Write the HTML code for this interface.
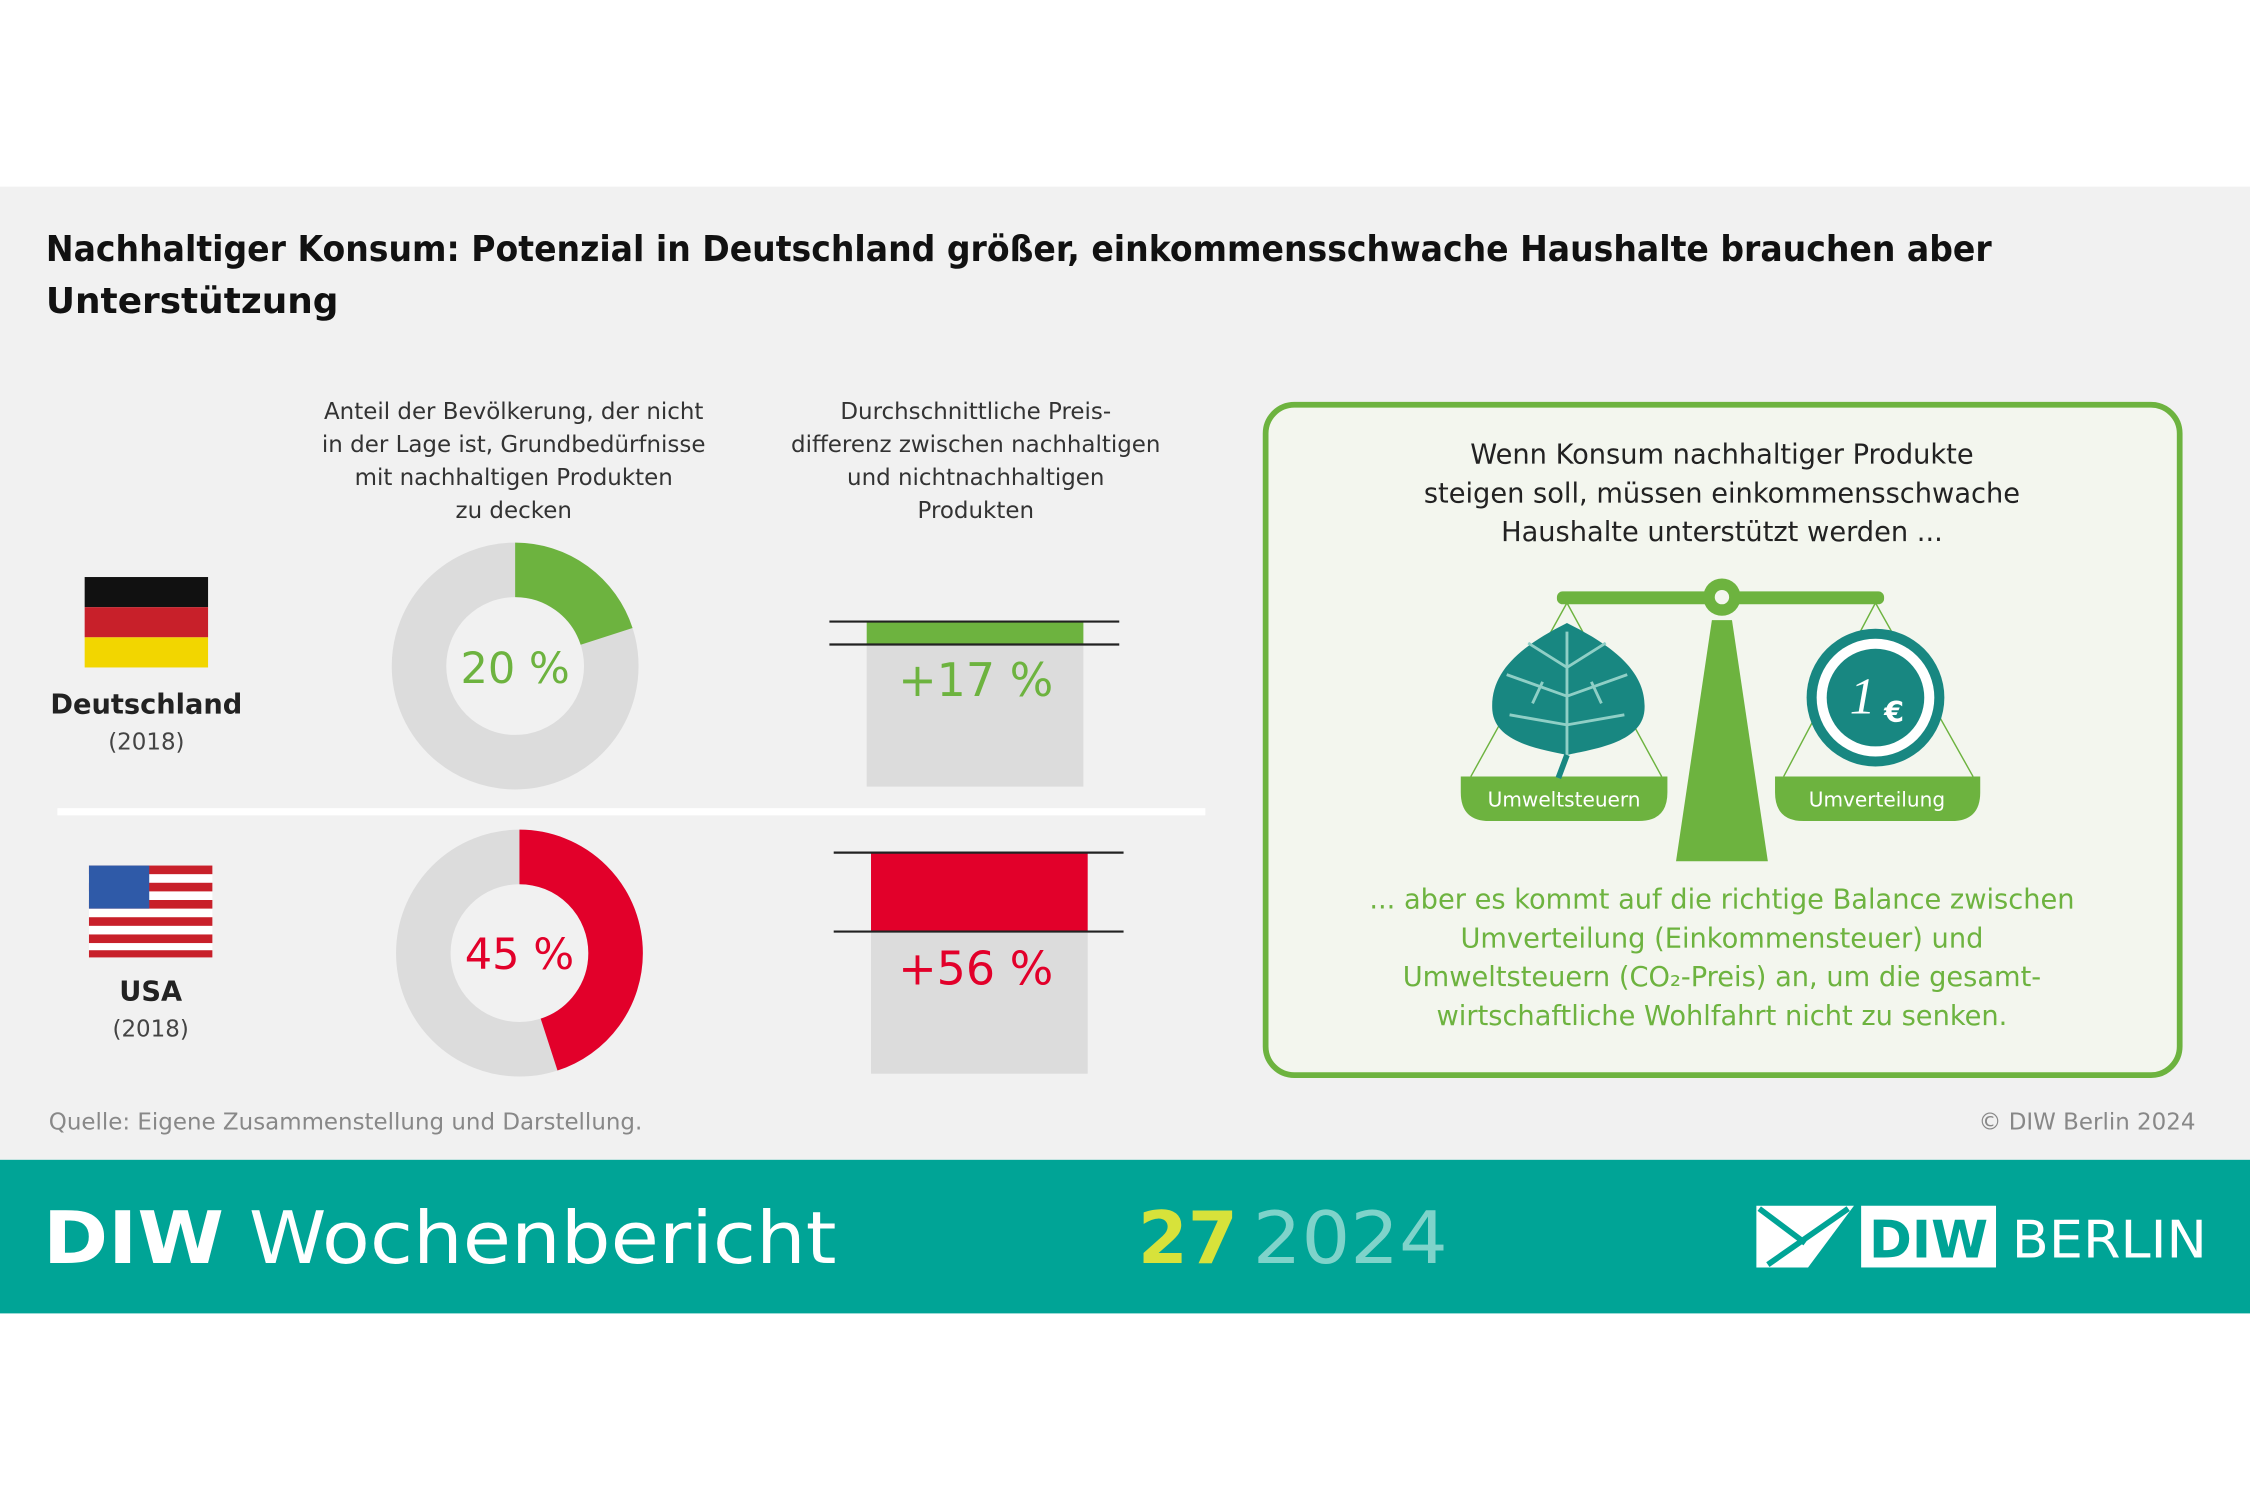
<!DOCTYPE html>
<html><head><meta charset="utf-8"><style>html,body{margin:0;padding:0;background:#fff}svg{display:block}</style></head><body>
<svg width="2250" height="1500" viewBox="0 0 1568 1045" preserveAspectRatio="none" xmlns="http://www.w3.org/2000/svg" font-family="'DejaVu Sans','Liberation Sans',sans-serif">
<rect width="1568" height="1045" fill="#fff"/>
<rect y="130" width="1568" height="678" fill="#f1f1f1"/>
<rect y="808" width="1568" height="107" fill="#00a496"/>
<g font-weight="bold" font-size="25" fill="#111">
<text x="32" y="182" textLength="1356" lengthAdjust="spacingAndGlyphs">Nachhaltiger Konsum: Potenzial in Deutschland größer, einkommensschwache Haushalte brauchen aber</text>
<text x="32" y="218">Unterstützung</text></g>
<g font-size="16" fill="#333" text-anchor="middle">
<text x="358" y="292">Anteil der Bevölkerung, der nicht</text>
<text x="358" y="315">in der Lage ist, Grundbedürfnisse</text>
<text x="358" y="338">mit nachhaltigen Produkten</text>
<text x="358" y="361">zu decken</text>
<text x="680" y="292">Durchschnittliche Preis-</text>
<text x="680" y="315">differenz zwischen nachhaltigen</text>
<text x="680" y="338">und nichtnachhaltigen</text>
<text x="680" y="361">Produkten</text></g>
<rect x="59" y="402" width="86" height="21" fill="#111"/><rect x="59" y="423" width="86" height="21" fill="#c8202a"/><rect x="59" y="444" width="86" height="21" fill="#f2d600"/>
<text x="102" y="497" font-size="19" font-weight="bold" fill="#222" text-anchor="middle">Deutschland</text>
<text x="102" y="522" font-size="16" fill="#444" text-anchor="middle">(2018)</text>
<g>
<rect x="62" y="603" width="86" height="64" fill="#fff"/>
<g fill="#c8202a"><rect x="62" y="603" width="86" height="6"/><rect x="62" y="615" width="86" height="6"/><rect x="62" y="627" width="86" height="6"/><rect x="62" y="639" width="86" height="6"/><rect x="62" y="651" width="86" height="6"/><rect x="62" y="662" width="86" height="5"/></g>
<rect x="62" y="603" width="42" height="30" fill="#2f5aa8"/>
</g>
<text x="105" y="697" font-size="19" font-weight="bold" fill="#222" text-anchor="middle">USA</text>
<text x="105" y="722" font-size="16" fill="#444" text-anchor="middle">(2018)</text>
<circle cx="359" cy="464" r="67" fill="none" stroke="#dcdcdc" stroke-width="38"/>
<circle cx="359" cy="464" r="67" fill="none" stroke="#6db33f" stroke-width="38" stroke-dasharray="84.2 500" transform="rotate(-90 359 464)"/>
<text x="359" y="476" font-size="30" fill="#6db33f" text-anchor="middle">20 %</text>
<circle cx="362" cy="664" r="67" fill="none" stroke="#dcdcdc" stroke-width="38"/>
<circle cx="362" cy="664" r="67" fill="none" stroke="#e2002a" stroke-width="38" stroke-dasharray="189.4 500" transform="rotate(-90 362 664)"/>
<text x="362" y="675" font-size="30" fill="#e2002a" text-anchor="middle">45 %</text>
<rect x="604" y="449" width="151" height="99" fill="#dcdcdc"/><rect x="604" y="433" width="151" height="16" fill="#6db33f"/>
<line x1="578" y1="433" x2="780" y2="433" stroke="#222" stroke-width="1.5"/><line x1="578" y1="449" x2="780" y2="449" stroke="#222" stroke-width="1.5"/>
<text x="680" y="485" font-size="32" fill="#6db33f" text-anchor="middle">+17 %</text>
<rect x="607" y="649" width="151" height="99" fill="#dcdcdc"/><rect x="607" y="594" width="151" height="55" fill="#e2002a"/>
<line x1="581" y1="594" x2="783" y2="594" stroke="#222" stroke-width="1.5"/><line x1="581" y1="649" x2="783" y2="649" stroke="#222" stroke-width="1.5"/>
<text x="680" y="686" font-size="32" fill="#e2002a" text-anchor="middle">+56 %</text>
<rect x="40" y="563" width="800" height="5" fill="#fff"/>
<rect x="882" y="282" width="637" height="467" rx="20" fill="#f3f6ee" stroke="#6db33f" stroke-width="4"/>
<g font-size="19" fill="#222" text-anchor="middle">
<text x="1200" y="323">Wenn Konsum nachhaltiger Produkte</text>
<text x="1200" y="350">steigen soll,  müssen einkommensschwache</text>
<text x="1200" y="377">Haushalte unterstützt werden ...</text></g>
<g fill="#6db33f">
<rect x="1085" y="412" width="228" height="9" rx="4"/>
<circle cx="1200" cy="416" r="13"/><circle cx="1200" cy="416" r="5" fill="#f3f6ee"/>
<polygon points="1193,432 1207,432 1232,600 1168,600"/>
<path d="M1018 541 H1162 V552 Q1162 572 1142 572 H1038 Q1018 572 1018 552Z"/>
<path d="M1237 541 H1380 V552 Q1380 572 1360 572 H1257 Q1237 572 1237 552Z"/>
</g>
<g stroke="#6db33f" stroke-width="1" fill="none"><path d="M1092 420 L1025 541 M1092 420 L1158 541 M1307 420 L1243 541 M1307 420 L1375 541"/></g>
<path d="M1092 434 C1060 450 1038 468 1040 495 C1042 518 1075 522 1092 526 C1109 522 1144 518 1146 495 C1148 468 1124 450 1092 434Z" fill="#188781"/>
<path d="M1092 440 V528 L1086 542 M1092 465 L1065 448 M1092 465 L1119 448 M1092 485 L1050 470 M1092 485 L1134 470 M1092 505 L1052 498 M1092 505 L1132 498 M1075 475 L1068 490 M1109 475 L1116 490" stroke="#8fcfc6" stroke-width="2" fill="none"/>
<path d="M1092 526 L1086 542" stroke="#188781" stroke-width="4"/>
<circle cx="1307" cy="486" r="48" fill="#188781"/><circle cx="1307" cy="486" r="41" fill="#fff"/><circle cx="1307" cy="486" r="34" fill="#188781"/>
<text x="1298" y="497" font-family="'Liberation Serif',serif" font-style="italic" font-size="36" fill="#fff" text-anchor="middle">1</text>
<text x="1320" y="503" font-size="20" font-weight="bold" fill="#fff" text-anchor="middle">€</text>
<text x="1090" y="562" font-size="14" fill="#fff" text-anchor="middle">Umweltsteuern</text>
<text x="1308" y="562" font-size="14" fill="#fff" text-anchor="middle">Umverteilung</text>
<g font-size="19" fill="#6db33f" text-anchor="middle">
<text x="1200" y="633">... aber es kommt auf die richtige Balance zwischen</text>
<text x="1200" y="660">Umverteilung (Einkommensteuer) und</text>
<text x="1200" y="687">Umweltsteuern (CO₂-Preis) an, um die gesamt-</text>
<text x="1200" y="714">wirtschaftliche Wohlfahrt nicht zu senken.</text></g>
<text x="34" y="787" font-size="16" fill="#888">Quelle: Eigene Zusammenstellung und Darstellung.</text>
<text x="1530" y="787" font-size="16" fill="#888" text-anchor="end">© DIW Berlin 2024</text>
<text x="30" y="880" font-size="50" fill="#fff" textLength="553" lengthAdjust="spacingAndGlyphs"><tspan font-weight="bold">DIW</tspan> Wochenbericht</text>
<text x="793" y="880" font-size="50" fill="#d7e23a" font-weight="bold">27</text>
<text x="873" y="880" font-size="50" fill="#7fd3ca" textLength="136" lengthAdjust="spacingAndGlyphs">2024</text>
<polygon points="1224,840 1292,840 1260,883 1224,883" fill="#fff"/>
<path d="M1226 842 L1258 866 M1288 842 L1232 881" stroke="#00a496" stroke-width="4"/>
<rect x="1297" y="840" width="94" height="43" fill="#fff"/>
<text x="1344" y="876" font-size="36" font-weight="bold" fill="#00a496" text-anchor="middle">DIW</text>
<text x="1402" y="876" font-size="36" fill="#fff" textLength="136" lengthAdjust="spacingAndGlyphs">BERLIN</text>
</svg>
</body></html>
